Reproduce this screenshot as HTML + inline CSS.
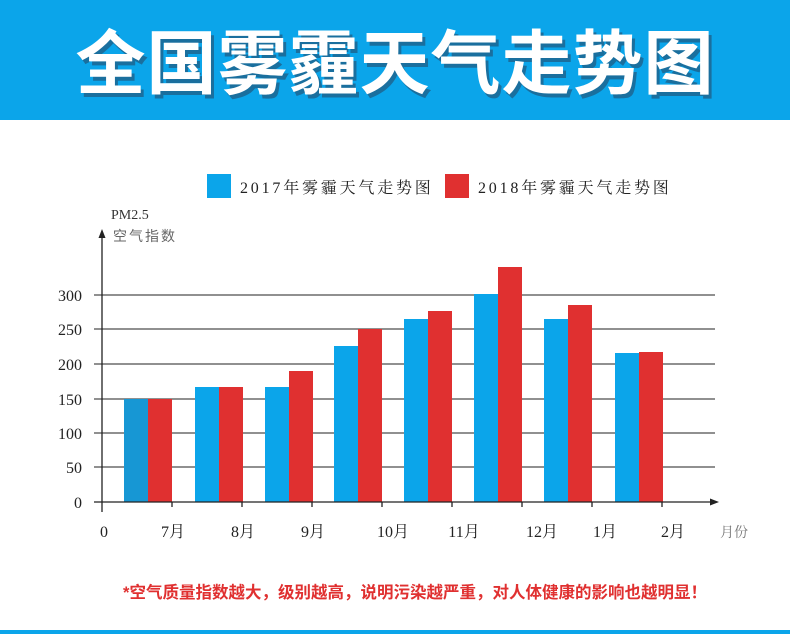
<!DOCTYPE html>
<html><head><meta charset="utf-8"><style>
body{margin:0;background:#fff;}
svg{display:block}
</style></head><body>
<svg width="790" height="634" xmlns="http://www.w3.org/2000/svg">
<rect x="0" y="0" width="790" height="120" fill="#0ba5ea"/>
<text x="398" y="92" text-anchor="middle" font-family="Liberation Sans, Noto Sans CJK SC, sans-serif" font-weight="bold" font-size="70" fill="#1a6f9e" letter-spacing="1">全国雾霾天气走势图</text>
<text x="395" y="88" text-anchor="middle" font-family="Liberation Sans, Noto Sans CJK SC, sans-serif" font-weight="bold" font-size="70" fill="#fff" letter-spacing="1">全国雾霾天气走势图</text>
<rect x="0" y="630" width="790" height="4" fill="#0ba5ea"/>

<rect x="207" y="174" width="24" height="24" fill="#0ba5ea"/>
<text x="240" y="193" font-family="Liberation Serif, Noto Serif CJK SC, serif" font-size="16" fill="#222" letter-spacing="2.8">2017年雾霾天气走势图</text>
<rect x="445" y="174" width="24" height="24" fill="#e03030"/>
<text x="478" y="193" font-family="Liberation Serif, Noto Serif CJK SC, serif" font-size="16" fill="#222" letter-spacing="2.8">2018年雾霾天气走势图</text>

<text x="111" y="219" font-family="Liberation Serif, serif" font-size="14" fill="#333">PM2.5</text>
<text x="113" y="241" font-family="Liberation Sans, Noto Sans CJK SC, sans-serif" font-size="14" fill="#666" letter-spacing="2">空气指数</text>

<g stroke="#222" stroke-width="1">
<line x1="94" y1="295" x2="715" y2="295"/>
<line x1="94" y1="329" x2="715" y2="329"/>
<line x1="94" y1="364" x2="715" y2="364"/>
<line x1="94" y1="399" x2="715" y2="399"/>
<line x1="94" y1="433" x2="715" y2="433"/>
<line x1="94" y1="467" x2="715" y2="467"/>
</g>

<g font-family="Liberation Serif, serif" font-size="16" fill="#222" text-anchor="end">
<text x="82" y="301">300</text><text x="82" y="335">250</text><text x="82" y="370">200</text>
<text x="82" y="405">150</text><text x="82" y="439">100</text><text x="82" y="473">50</text><text x="82" y="508">0</text>
</g>

<g>
<rect x="124" y="399" width="24" height="103" fill="#1797d4"/><rect x="148" y="399" width="24" height="103" fill="#e03030"/>
<rect x="195" y="387" width="24" height="115" fill="#0ba5ea"/><rect x="219" y="387" width="24" height="115" fill="#e03030"/>
<rect x="265" y="387" width="24" height="115" fill="#0ba5ea"/><rect x="289" y="371" width="24" height="131" fill="#e03030"/>
<rect x="334" y="346" width="24" height="156" fill="#0ba5ea"/><rect x="358" y="329" width="24" height="173" fill="#e03030"/>
<rect x="404" y="319" width="24" height="183" fill="#0ba5ea"/><rect x="428" y="311" width="24" height="191" fill="#e03030"/>
<rect x="474" y="294" width="24" height="208" fill="#0ba5ea"/><rect x="498" y="267" width="24" height="235" fill="#e03030"/>
<rect x="544" y="319" width="24" height="183" fill="#0ba5ea"/><rect x="568" y="305" width="24" height="197" fill="#e03030"/>
<rect x="615" y="353" width="24" height="149" fill="#0ba5ea"/><rect x="639" y="352" width="24" height="150" fill="#e03030"/>
</g>

<g stroke="#222" stroke-width="1.3">
<line x1="102" y1="236" x2="102" y2="512"/>
<line x1="94" y1="502" x2="712" y2="502"/>
<line x1="172" y1="502" x2="172" y2="507"/><line x1="242" y1="502" x2="242" y2="507"/>
<line x1="312" y1="502" x2="312" y2="507"/><line x1="382" y1="502" x2="382" y2="507"/>
<line x1="452" y1="502" x2="452" y2="507"/><line x1="522" y1="502" x2="522" y2="507"/>
<line x1="592" y1="502" x2="592" y2="507"/><line x1="662" y1="502" x2="662" y2="507"/>
</g>
<polygon points="102,229 98.5,238 105.5,238" fill="#222"/>
<polygon points="719,502 710,498.5 710,505.5" fill="#222"/>

<g font-family="Liberation Serif, Noto Serif CJK SC, serif" font-size="16" fill="#222" text-anchor="middle">
<text x="104" y="537">0</text>
<text x="173" y="537">7月</text><text x="243" y="537">8月</text><text x="313" y="537">9月</text>
<text x="393" y="537">10月</text><text x="464" y="537">11月</text><text x="542" y="537">12月</text>
<text x="605" y="537">1月</text><text x="673" y="537">2月</text>
<text x="734" y="537" font-size="14" fill="#777">月份</text>
</g>

<text x="415" y="598" text-anchor="middle" font-family="Liberation Sans, Noto Sans CJK SC, sans-serif" font-weight="bold" font-size="16.5" fill="#e03030">*空气质量指数越大，级别越高，说明污染越严重，对人体健康的影响也越明显！</text>
</svg>
</body></html>
